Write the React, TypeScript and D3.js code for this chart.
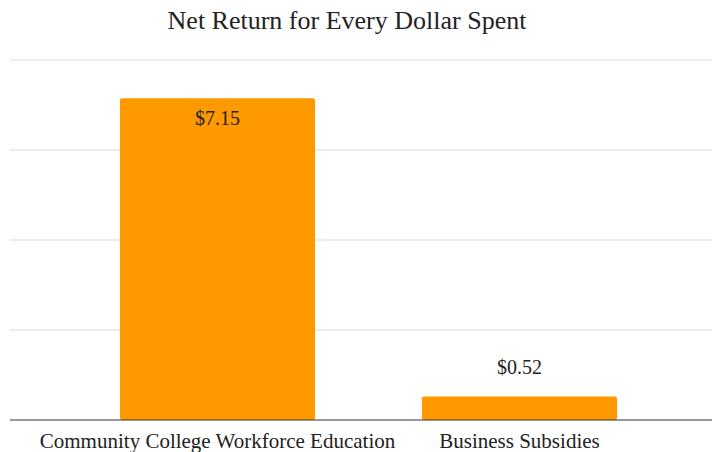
import React from "react";
import * as d3 from "d3";

const categories = ["Community College Workforce Education", "Business Subsidies"];
const values = [7.15, 0.52];
const valueLabels = ["$7.15", "$0.52"];
const yTicks = [0, 2, 4, 6, 8];
const title = "Net Return for Every Dollar Spent";

const W = 712;
const H = 452;
const FONT = "'Liberation Serif', 'Times New Roman', serif";

export default function App() {
  const x = d3
    .scaleBand<string>()
    .domain(categories)
    .range([66.5, 670.5])
    .paddingInner(0.354)
    .paddingOuter(0.177);
  const y = d3.scaleLinear().domain([0, 8]).range([420, 60]);
  const bw = x.bandwidth();

  return (
    <svg
      width={W}
      height={H}
      style={{ position: "absolute", left: 0, top: 0, background: "#fff" }}
    >
      <text
        x={347}
        y={29}
        textAnchor="middle"
        fontFamily={FONT}
        fontSize={26}
        fill="#222"
      >
        {title}
      </text>
      {yTicks.slice(1).map((t) => (
        <line key={t} x1={10} x2={W} y1={y(t)} y2={y(t)} stroke="#d9d9d9" strokeWidth={1} />
      ))}
      {categories.map((c, i) => {
        const top = y(values[i]);
        const inside = values[i] > 2;
        return (
          <g key={c}>
            <rect
              x={x(c)}
              y={top}
              width={bw}
              height={y(0) - top}
              rx={2}
              fill="#ff9900"
            />
            <text
              x={(x(c) as number) + bw / 2}
              y={inside ? top + 27 : top - 23}
              textAnchor="middle"
              fontFamily={FONT}
              fontSize={20}
              fill="#222"
            >
              {valueLabels[i]}
            </text>
            <text
              x={(x(c) as number) + bw / 2}
              y={448}
              textAnchor="middle"
              fontFamily={FONT}
              fontSize={21}
              fill="#222"
            >
              {c}
            </text>
          </g>
        );
      })}
      <line x1={10} x2={W} y1={y(0)} y2={y(0)} stroke="#333" strokeWidth={1.2} />
    </svg>
  );
}
